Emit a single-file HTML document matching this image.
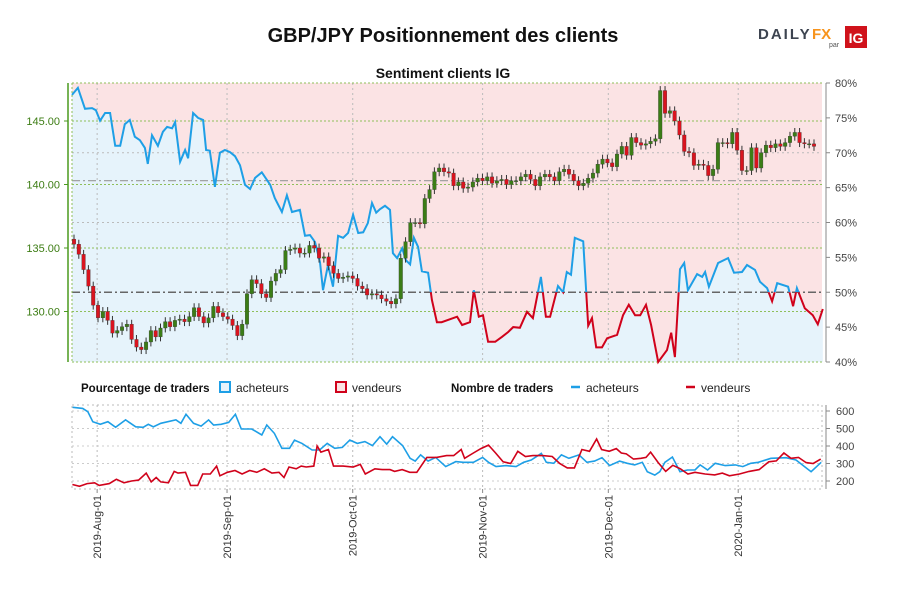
<!DOCTYPE html>
<html><head><meta charset="utf-8"><style>
body{margin:0;background:#fff;font-family:"Liberation Sans",sans-serif}
svg text{font-family:"Liberation Sans",sans-serif}
</style></head><body>
<svg id="chart" width="900" height="600" xmlns="http://www.w3.org/2000/svg">
<text x="443" y="42" text-anchor="middle" font-size="20" font-weight="bold" fill="#111">GBP/JPY Positionnement des clients</text>
<g>
<text x="758" y="39" font-size="15" font-weight="bold" fill="#3d4450" letter-spacing="2">DAILY</text>
<text x="812" y="39" font-size="15" font-weight="bold" fill="#f7941d">FX</text>
<text x="829" y="47" font-size="7" fill="#555">par</text>
<rect x="845" y="26" width="22" height="22" fill="#d0121b"/>
<text x="856" y="43" font-size="14" font-weight="bold" fill="#fff" text-anchor="middle">IG</text>
</g>
<text x="443" y="78" text-anchor="middle" font-size="14" font-weight="bold" fill="#111">Sentiment clients IG</text>
<g id="main"></g>
<g font-size="12">
<text x="81" y="392" font-weight="bold" font-size="11.5" fill="#111">Pourcentage de traders</text>
<rect x="220" y="382" width="10" height="10" fill="#e6f3fb" stroke="#1e9fe6" stroke-width="2"/>
<text x="236" y="392" fill="#222">acheteurs</text>
<rect x="336" y="382" width="10" height="10" fill="#fbe3e3" stroke="#d0021b" stroke-width="2"/>
<text x="352" y="392" fill="#222">vendeurs</text>
<text x="451" y="392" font-weight="bold" font-size="11.5" fill="#111">Nombre de traders</text>
<line x1="571" y1="387" x2="580" y2="387" stroke="#1e9fe6" stroke-width="2.5"/>
<text x="586" y="392" fill="#222">acheteurs</text>
<line x1="686" y1="387" x2="695" y2="387" stroke="#d0021b" stroke-width="2.5"/>
<text x="701" y="392" fill="#222">vendeurs</text>
</g>
<g id="bottom"></g>
</svg>
<script>
const sentDays=[0,1.4,3.1,4.8,5.7,6.7,7.9,9.1,10.3,11.5,12.6,13.8,15,16.2,17.4,18.1,19.1,20.5,21.7,22.7,23.9,24.6,25.8,27,27.7,28.9,30.1,31.3,32,32.9,34.1,35.3,36.5,37.7,38.9,40.1,41.3,42.5,43.7,45.3,47.3,48.4,50.1,51.3,52.5,54.4,55.6,56.8,58,59.2,59.9,61.1,62.3,63.5,64.7,65.9,67.1,68.3,69.5,70.6,71.6,72.6,73.5,74.7,75.9,76.6,77.6,78.8,79.7,80.7,81.6,82.6,83.5,85,85.9,87.1,88.2,91.9,93.1,95,95.9,97.1,98.1,99.3,101,102.6,104.1,105.3,106.9,108.6,110,111.9,113.1,114.1,116,117.2,118.1,119.1,120,122,123.2,124.1,125.1,126.5,127.7,130.1,131.5,132.9,134.4,135.6,137,138.2,139.9,142,143,143.9,145.1,146.1,147,149.2,150.4,151.1,152,154.2,156.6,158,159.9,161.1,163,164.2,165.9,167.1,168.3,170.9,172.1,173,174.9,176.8,178,179.2];
const sentPct=[78.3,79.3,76.3,76.4,76.1,74.6,75.7,75.7,71.0,71.0,74.1,74.7,72.3,71.8,70.7,68.4,72.5,71.0,73.0,73.7,73.5,74.4,68.7,70.4,69.2,75.7,75.0,74.7,70.4,70.3,65.1,70.0,70.4,70.1,69.5,68.2,65.4,64.8,66.4,67.2,65.4,63.5,61.5,63.9,61.5,61.8,58.1,58.2,57.2,54.3,50.3,53.9,50.8,58.1,57.8,58.5,61.1,58.5,58.6,59.9,62.8,61.4,61.9,62.4,61.8,55.6,54.9,56.3,54.6,54.0,57.8,56.5,53.0,52.8,48.9,45.7,45.7,46.5,45.3,45.7,50.3,46.5,46.7,42.9,42.9,43.6,44.3,45.0,44.9,47.2,46.3,52.2,46.5,46.5,50.9,50.0,52.9,52.5,57.8,57.3,45.2,46.3,42.1,42.1,43.4,43.9,46.7,48.2,46.7,46.7,48.2,45.3,40.0,41.7,44.2,40.7,53.3,54.2,50.3,52.6,52.2,52.9,50.8,54.2,54.9,52.8,52.9,53.9,53.2,51.5,50.6,48.7,51.3,50.8,48.0,50.6,47.7,46.7,45.4,47.6];
const closes=[135.3,134.5,133.3,132.0,130.5,129.5,130.0,129.3,128.3,128.5,128.8,129.0,127.8,127.2,127.0,127.6,128.5,128.0,128.7,129.2,128.8,129.3,129.4,129.2,129.6,130.3,129.6,129.1,129.5,130.4,129.9,129.6,129.4,128.9,128.1,129.0,131.4,132.5,132.2,131.4,131.1,132.4,133.0,133.3,134.8,134.9,135.0,134.6,134.6,135.2,135.0,134.2,134.3,133.6,133.0,132.6,132.7,132.8,132.6,132.0,131.8,131.3,131.4,131.3,131.0,130.8,130.6,131.0,134.2,135.5,137.0,137.0,136.9,138.9,139.6,141.0,141.3,141.0,140.9,139.9,140.2,139.7,139.8,140.2,140.5,140.3,140.6,140.1,140.3,140.4,140.0,140.3,140.3,140.6,140.8,140.4,139.9,140.6,140.8,140.6,140.3,141.0,141.2,140.8,140.3,139.9,140.1,140.5,140.9,141.6,142.0,141.7,141.4,142.4,143.0,142.3,143.7,143.3,143.1,143.2,143.4,143.6,147.4,145.6,145.8,145.0,143.9,142.6,142.5,141.5,141.6,141.5,140.7,141.2,143.3,143.3,143.2,144.1,142.7,141.1,141.1,142.9,141.3,142.5,143.1,142.9,143.2,143.0,143.3,143.8,144.1,143.3,143.2,143.2,143.0];
const levelPrice=140.3;
const priceTicks=[145,140,135,130];
const pctTicks=[80,75,70,65,60,55,50,45,40];
const buyDays=[0.15,2.55,3.76,4.96,6.76,8.57,10.4,12.8,15.2,17,18.2,19.4,21.2,24.8,26,27.2,29,30.8,32.6,33.8,35.6,37.4,39,40.4,42.9,45.3,46.5,48.3,50.1,51.9,53.1,54.9,57.3,59.1,60.9,62.7,64.5,66.3,68.1,69.9,71.7,73.5,75.1,76.5,78.9,80.7,81.9,83.2,85,86.8,89.2,91.6,93.4,95.8,98,99.4,101.2,103.6,106,107.8,109.6,112,113.2,115,116.8,118.6,121,122.9,124.7,126.5,128.3,130.7,132.5,134.3,136.1,137.3,139.1,140.3,141.5,143.3,145.1,146.9,148.7,149.9,151.7,153.5,155.9,158.3,160.1,162,163.8,166.8,170.4,172.8,176.4,178.8];
const buyCount=[621,615,596,539,524,539,507,549,510,507,524,510,530,549,530,581,530,514,549,520,524,535,581,497,497,463,520,472,387,387,434,415,377,377,415,387,392,434,415,425,402,453,411,453,402,330,314,349,314,335,282,311,307,307,335,307,282,288,282,307,320,358,307,301,349,330,349,307,314,333,288,314,301,292,307,253,234,253,307,337,253,263,263,292,263,301,288,292,282,301,307,330,333,320,253,307];
const sellDays=[0.1,1.8,3.6,5.4,6.5,8.9,10.6,12.4,14.2,15.9,17.7,18.9,20.1,21.2,23,24.4,25.3,27.1,28.3,30,31.2,33,34.5,35.3,37.1,38.9,40.6,42.4,44.1,45.9,47.7,49.4,50.6,51.8,53.5,54.7,55.9,57.7,58.5,59.4,61.2,62.4,64.7,67.1,68.8,70,72.3,74.1,75.9,77,78.8,80.6,82.3,84.7,87,89.4,91.1,92.9,93.7,95.8,97.6,99.4,101.1,102.9,104.7,106.4,108.2,110,112.3,114.6,116.4,118.2,119.9,121.7,123.5,125.2,126.4,128.2,129.9,131.1,132.3,134,135.8,137,138.1,139.9,141.7,143.4,145.2,147,148.7,151.1,153.4,155.2,156.9,159.3,161.6,164,166.3,168.1,169.9,171.6,173.4,175.2,176.9,178.7];
const sellCount=[180,170,185,190,175,185,210,190,200,205,245,195,220,195,190,255,245,250,175,175,240,240,285,230,250,260,240,260,250,270,245,250,220,280,270,285,280,285,400,365,380,285,285,280,295,240,270,265,265,255,265,250,250,335,335,345,345,380,330,360,385,405,360,310,300,370,340,345,345,340,300,275,275,380,370,440,380,370,385,360,355,325,330,335,365,305,255,290,270,240,250,240,235,245,230,240,255,265,310,315,360,330,335,305,300,325];
const countTicks=[600,500,400,300,200];
const monthLabels=["2019-Aug-01","2019-Sep-01","2019-Oct-01","2019-Nov-01","2019-Dec-01","2020-Jan-01"];
const monthDays=[6,37,67,98,128,159];

const NS="http://www.w3.org/2000/svg";
const X0=72,X1=822,DMAX=179;
const xd=d=>X0+d*(X1-X0)/DMAX;
const yPct=p=>83+(80-p)*(362-83)/40;
const yPr=v=>121+(145-v)*12.7;
const yCnt=c=>411+(600-c)*0.175;
function mk(tag,attrs,parent){const e=document.createElementNS(NS,tag);for(const k in attrs)e.setAttribute(k,attrs[k]);parent.appendChild(e);return e;}
const main=document.getElementById('main'),bot=document.getElementById('bottom');

const bg=mk('rect',{x:X0,y:83,width:X1-X0,height:279,fill:'#fbe3e4'},main);


const defs=mk('defs',{},main);
const cA=mk('clipPath',{id:'above'},defs);mk('rect',{x:0,y:0,width:900,height:yPct(50)},cA);
const cB=mk('clipPath',{id:'below'},defs);mk('rect',{x:0,y:yPct(50),width:900,height:400},cB);
const cP=mk('clipPath',{id:'plot'},defs);mk('rect',{x:X0,y:83,width:X1-X0,height:279},cP);
let d='';sentDays.forEach((v,i)=>{d+=(i?'L':'M')+xd(v).toFixed(1)+','+yPct(sentPct[i]).toFixed(1);});
const area=mk('path',{d:d+'L'+xd(sentDays[sentDays.length-1])+',362L'+X0+',362Z',fill:'#e6f3fb'},main);


monthDays.forEach(m=>{mk('line',{x1:xd(m),x2:xd(m),y1:83,y2:362,stroke:'#bbb','stroke-dasharray':'2,3'},main);
 mk('line',{x1:xd(m),x2:xd(m),y1:405,y2:489,stroke:'#bbb','stroke-dasharray':'2,3'},bot);});
[70,60].forEach(p=>mk('line',{x1:X0,x2:X1,y1:yPct(p),y2:yPct(p),stroke:'#bbb','stroke-dasharray':'2,3'},main));
[83,362].concat(priceTicks.map(yPr)).forEach(y=>mk('line',{x1:X0,x2:X1,y1:y,y2:y,stroke:'#8fbf5a','stroke-dasharray':'2,2'},main));
mk('line',{x1:X0,x2:X1,y1:yPct(50),y2:yPct(50),stroke:'#666','stroke-width':1.5,'stroke-dasharray':'8,3,2,3'},main);
mk('line',{x1:X0,x2:X1,y1:yPr(levelPrice),y2:yPr(levelPrice),stroke:'#999','stroke-width':1.2,'stroke-dasharray':'8,3,2,3'},main);
mk('line',{x1:X0,x2:X0,y1:83,y2:362,stroke:'#8fbf5a','stroke-dasharray':'2,2'},main);
const lb=mk('path',{d:d,fill:'none',stroke:'#1e9fe6','stroke-width':2,'clip-path':'url(#above)'},main);


const lr=mk('path',{d:d,fill:'none',stroke:'#d0021b','stroke-width':2,'clip-path':'url(#below)'},main);


const cg=mk('g',{'clip-path':'url(#plot)'},main);
const step=(X1-X0-10)/(closes.length-1);
closes.forEach((c,i)=>{
 const o=i?closes[i-1]:c+0.4;const x=X0+2+i*step;
 const hi=Math.max(o,c)+0.35,lo=Math.min(o,c)-0.35;
 mk('line',{x1:x,x2:x,y1:yPr(hi),y2:yPr(lo),stroke:'#333','stroke-width':1},cg);
 const r=mk('rect',{x:x-1.8,y:yPr(Math.max(o,c)),width:3.6,height:Math.max(1,Math.abs(yPr(o)-yPr(c))),fill:c>=o?'#3b7d16':'#d9141f',stroke:'#333','stroke-width':0.3},cg);
 
 
});
mk('line',{x1:68,x2:68,y1:83,y2:362,stroke:'#4a9a1e','stroke-width':1.5},main);
priceTicks.forEach(p=>{mk('line',{x1:64,x2:68,y1:yPr(p),y2:yPr(p),stroke:'#4a9a1e'},main);
 const t=mk('text',{x:60,y:yPr(p)+4,'text-anchor':'end','font-size':11,fill:'#3d7d14'},main);t.textContent=p.toFixed(2);
 
 });
mk('line',{x1:826,x2:826,y1:83,y2:362,stroke:'#888'},main);
pctTicks.forEach(p=>{mk('line',{x1:826,x2:830,y1:yPct(p),y2:yPct(p),stroke:'#888'},main);
 const t=mk('text',{x:835,y:yPct(p)+4,'font-size':11,fill:'#444'},main);t.textContent=p+'%';
 
 });
mk('rect',{x:X0,y:405,width:X1-X0,height:84,fill:'none',stroke:'#bbb','stroke-dasharray':'2,3'},bot);
countTicks.forEach(c=>{mk('line',{x1:X0,x2:X1,y1:yCnt(c),y2:yCnt(c),stroke:'#ccc','stroke-dasharray':'2,3'},bot);
 mk('line',{x1:826,x2:830,y1:yCnt(c),y2:yCnt(c),stroke:'#888'},bot);
 const t=mk('text',{x:836,y:yCnt(c)+4,'font-size':11,fill:'#444'},bot);t.textContent=c;
 
 });
mk('line',{x1:826,x2:826,y1:405,y2:489,stroke:'#888'},bot);
function series(days,vals,col,name){let p='';days.forEach((v,i)=>{p+=(i?'L':'M')+xd(v).toFixed(1)+','+yCnt(vals[i]).toFixed(1);});
 const e=mk('path',{d:p,fill:'none',stroke:col,'stroke-width':1.6},bot);
 
 }
series(buyDays,buyCount,'#1e9fe6','buyers-count-line');
series(sellDays,sellCount,'#d0021b','sellers-count-line');
monthLabels.forEach((m,i)=>{const x=xd(monthDays[i]);
 mk('line',{x1:x,x2:x,y1:489,y2:493,stroke:'#888'},bot);
 const t=mk('text',{x:0,y:0,'font-size':11,fill:'#333','text-anchor':'end',transform:`translate(${x+4},495) rotate(-90)`},bot);t.textContent=m;
 
 });
</script>
</body></html>
